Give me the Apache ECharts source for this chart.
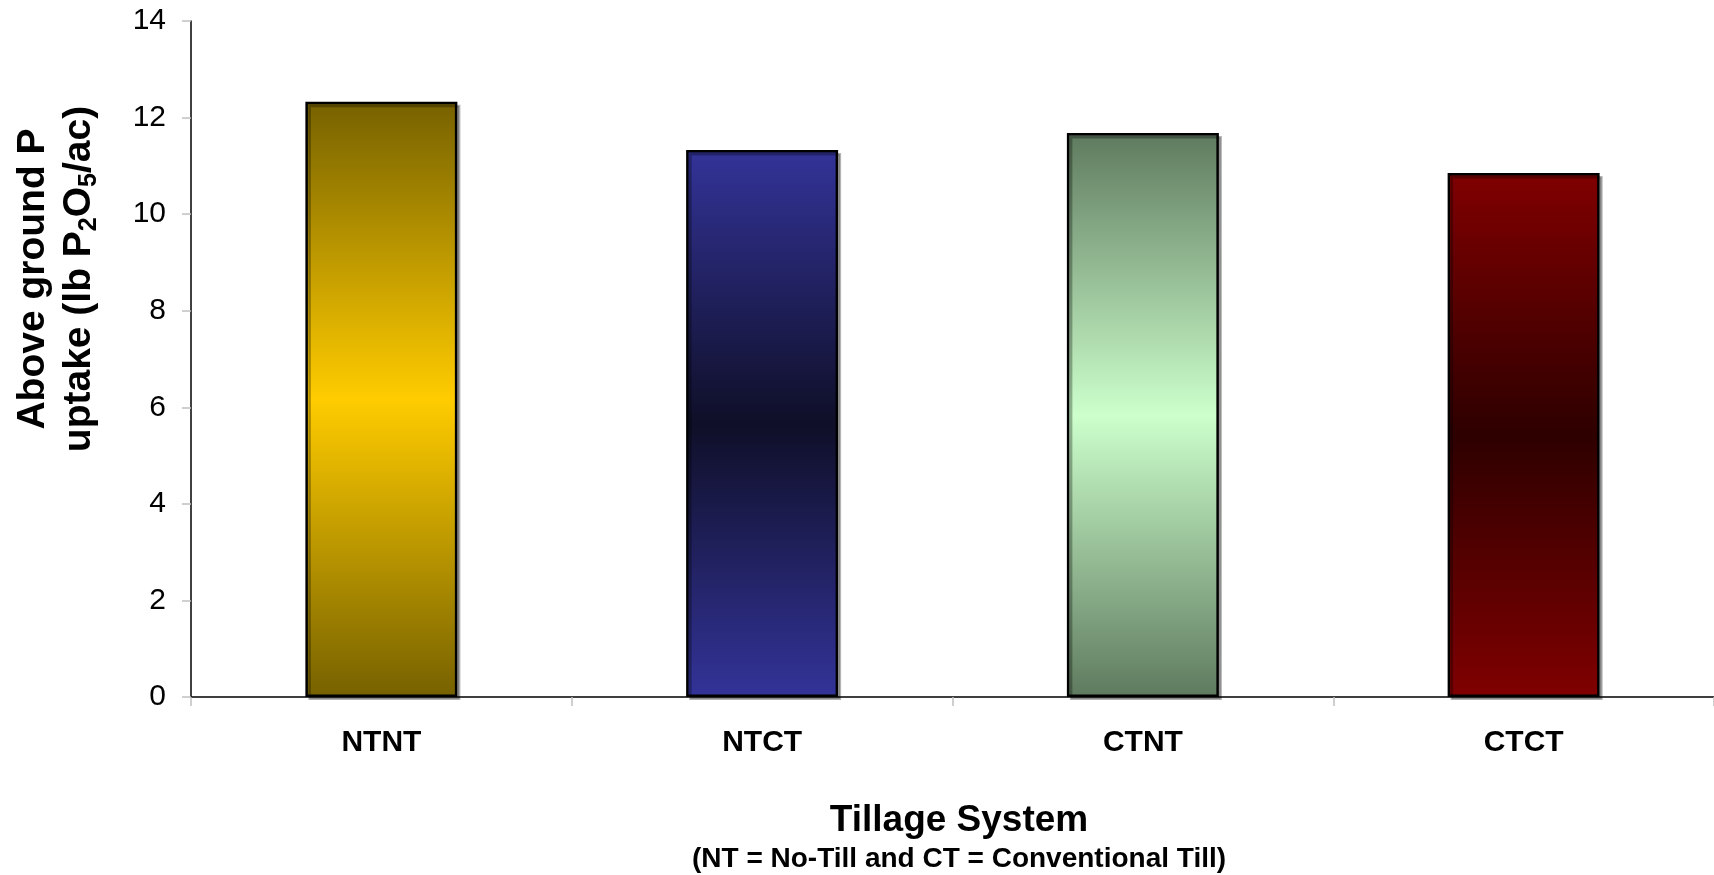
<!DOCTYPE html>
<html>
<head>
<meta charset="utf-8">
<style>
  html, body { margin: 0; padding: 0; background: #ffffff; }
  #chart { width: 1714px; height: 875px; }
</style>
<script src="https://cdn.jsdelivr.net/npm/echarts@6/dist/echarts.min.js"></script>
</head>
<body>
<div id="chart"></div>
<script>
// Tillage systems and above-ground P uptake (lb P2O5/ac)
const categories = ['NTNT', 'NTCT', 'CTNT', 'CTCT'];
const uptake = [12.33, 11.33, 11.68, 10.85];

// Bar fills: colour at top/bottom edges and at the vertical centre
const edgeColors = ['#766100', '#333399', '#5f7a5f', '#800000'];
const centerColors = ['#ffcc00', '#0f0f28', '#ccffcc', '#2e0000'];

// Value axis range
const yMin = 0;
const yMax = 14;
const yStep = 2;

const FONT = '"Liberation Sans", Arial, Helvetica, sans-serif';

function barFill(i) {
  return new echarts.graphic.LinearGradient(0, 0, 0, 1, [
    { offset: 0, color: edgeColors[i] },
    { offset: 0.5, color: centerColors[i] },
    { offset: 1, color: edgeColors[i] }
  ]);
}

const chart = echarts.init(document.getElementById('chart'), null, { renderer: 'canvas' });

const option = {
  animation: false,
  backgroundColor: '#ffffff',
  grid: { left: 191, top: 21, width: 1527, height: 676, containLabel: false },
  xAxis: {
    type: 'category',
    data: categories,
    boundaryGap: true,
    axisLine: { show: true, lineStyle: { color: '#000000', width: 1.5 } },
    axisTick: { show: true, length: 9, lineStyle: { color: '#c0c0c0', width: 1.5 } },
    axisLabel: {
      margin: 31,
      color: '#000000',
      fontFamily: FONT,
      fontWeight: 'bold',
      fontSize: 30
    },
    splitLine: { show: false }
  },
  yAxis: {
    type: 'value',
    min: yMin,
    max: yMax,
    interval: yStep,
    axisLine: { show: true, lineStyle: { color: '#000000', width: 1.5 } },
    axisTick: { show: true, length: 9, lineStyle: { color: '#c0c0c0', width: 1.5 } },
    axisLabel: {
      margin: 25,
      color: '#000000',
      fontFamily: FONT,
      fontSize: 30
    },
    splitLine: { show: false }
  },
  series: [{
    type: 'bar',
    barWidth: 152,
    data: uptake.map((v, i) => ({
      value: v,
      itemStyle: {
        color: barFill(i),
        borderColor: '#000000',
        borderWidth: 2.5,
        shadowColor: 'rgba(0,0,0,0.3)',
        shadowOffsetX: 3,
        shadowOffsetY: 3,
        shadowBlur: 0
      }
    }))
  }],
  graphic: [
    {
      type: 'text',
      x: 56,
      y: 279,
      rotation: Math.PI / 2,
      style: {
        text: '{b|Above ground P}\n{b|uptake (lb P}{s|2}{b|O}{s|5}{b|/ac)}',
        align: 'center',
        verticalAlign: 'middle',
        fill: '#000000',
        rich: {
          b: { fontFamily: FONT, fontWeight: 'bold', fontSize: 39, lineHeight: 46, fill: '#000000' },
          s: { fontFamily: FONT, fontWeight: 'bold', fontSize: 25, lineHeight: 24, verticalAlign: 'bottom', fill: '#000000' }
        }
      }
    },
    {
      type: 'text',
      x: 959,
      y: 821,
      style: {
        text: 'Tillage System',
        align: 'center',
        verticalAlign: 'middle',
        fontFamily: FONT,
        fontWeight: 'bold',
        fontSize: 37,
        fill: '#000000'
      }
    },
    {
      type: 'text',
      x: 959,
      y: 859,
      style: {
        text: '(NT = No-Till and CT = Conventional Till)',
        align: 'center',
        verticalAlign: 'middle',
        fontFamily: FONT,
        fontWeight: 'bold',
        fontSize: 28,
        fill: '#000000'
      }
    }
  ]
};

chart.setOption(option);
</script>
</body>
</html>
